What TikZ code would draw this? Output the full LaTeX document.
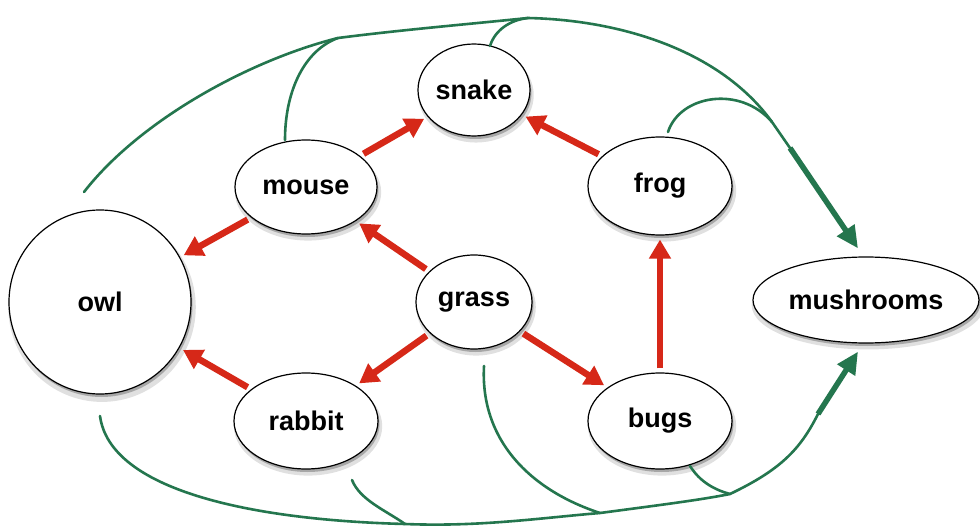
\documentclass[tikz,border=0pt]{standalone}
\usepackage{fontspec}
\setmainfont{Liberation Sans}
\usetikzlibrary{shapes.geometric,arrows.meta,shadows}
\definecolor{eatred}{RGB}{214,40,24}
\definecolor{decgreen}{RGB}{36,118,78}
\begin{document}
\begin{tikzpicture}[x=1pt,y=-1pt,
  animal/.style={ellipse,draw=black,line width=1.2pt,fill=white,inner sep=0pt,
    font=\fontsize{27}{27}\selectfont\bfseries,
    drop shadow={shadow xshift=2pt,shadow yshift=-5pt,opacity=0.12,fill=black,shadow scale=1.03},
    drop shadow={shadow xshift=1.5pt,shadow yshift=-3pt,opacity=0.25,fill=black}},
  eats/.style={draw=eatred,line width=6.5pt,-{Triangle[length=19pt,width=21pt]},
    shorten <=4pt,shorten >=4pt},
  decay/.style={draw=decgreen,line width=2.6pt,line cap=round,line join=round},
  decayarrow/.style={draw=decgreen,line width=5.5pt,-{Triangle[length=22pt,width=20pt]}}]
\useasboundingbox (0,0) rectangle (980,532);
\fill[white] (0,0) rectangle (980,532);

% nodes
\node[animal,minimum width=112pt,minimum height=92pt] (snake) at (474,90) {snake};
\node[animal,minimum width=142pt,minimum height=94pt] (mouse) at (306,187) {mouse};
\node[animal,minimum width=144pt,minimum height=98pt] (frog) at (660,186) {frog};
\node[animal,minimum width=182pt,minimum height=184pt] (owl) at (100,302) {owl};
\node[animal,minimum width=116pt,minimum height=94pt] (grass) at (474,302) {grass};
\node[animal,minimum width=226pt,minimum height=86pt] (mush) at (866,300) {mushrooms};
\node[animal,minimum width=144pt,minimum height=96pt] (rabbit) at (306,421) {rabbit};
\node[animal,minimum width=144pt,minimum height=96pt] (bugs) at (660,421) {bugs};

% red feeding arrows
\draw[eats] (mouse) -- (owl);
\draw[eats] (rabbit) -- (owl);
\draw[eats] (grass) -- (mouse);
\draw[eats] (grass) -- (rabbit);
\draw[eats] (grass) -- (bugs);
\draw[eats] (bugs) -- (frog);
\draw[eats] (frog) -- (snake);
\draw[eats] (mouse) -- (snake);

% green decay lines: free ends
\coordinate (owlT) at (84,192);
\coordinate (mouseT) at (285,140);
\coordinate (snakeT) at (490,46);
\coordinate (frogT) at (668,132);
\coordinate (jM) at (338,38);
\coordinate (jS) at (528,18);
\coordinate (jF) at (772,122);
\coordinate (topEnd) at (790,148);
\coordinate (owlB) at (100,416);
\coordinate (rabbitB) at (352,480);
\coordinate (grassB) at (484,366);
\coordinate (bugsB) at (690,466);
\coordinate (jR) at (405,524);
\coordinate (jG) at (600,513);
\coordinate (jB) at (730,494);
\coordinate (botEnd) at (818,414);

% top main curve
\draw[decay] (owlT) .. controls (140,120) and (250,60) .. (jM)
  .. controls (400,30) and (470,24) .. (jS)
  .. controls (620,20) and (720,50) .. (jF) -- (topEnd);
\draw[decayarrow] (topEnd) -- ([shift={(-8pt,8pt)}]mush.north);
\draw[decay] (mouseT) .. controls (285,90) and (305,50) .. (jM);
\draw[decay] (snakeT) .. controls (495,30) and (510,20) .. (jS);
\draw[decay] (frogT) .. controls (680,95) and (740,85) .. (jF);

% bottom main curve
\draw[decay] (owlB) .. controls (110,490) and (250,520) .. (jR)
  .. controls (480,527) and (540,518) .. (jG)
  .. controls (660,505) and (700,500) .. (jB)
  .. controls (780,470) and (800,450) .. (botEnd);
\draw[decayarrow] (botEnd) -- ([shift={(-8pt,-8pt)}]mush.south);
\draw[decay] (rabbitB) .. controls (360,500) and (385,510) .. (jR);
\draw[decay] (grassB) .. controls (480,440) and (530,490) .. (jG);
\draw[decay] (bugsB) .. controls (700,482) and (715,490) .. (jB);
\end{tikzpicture}
\end{document}
